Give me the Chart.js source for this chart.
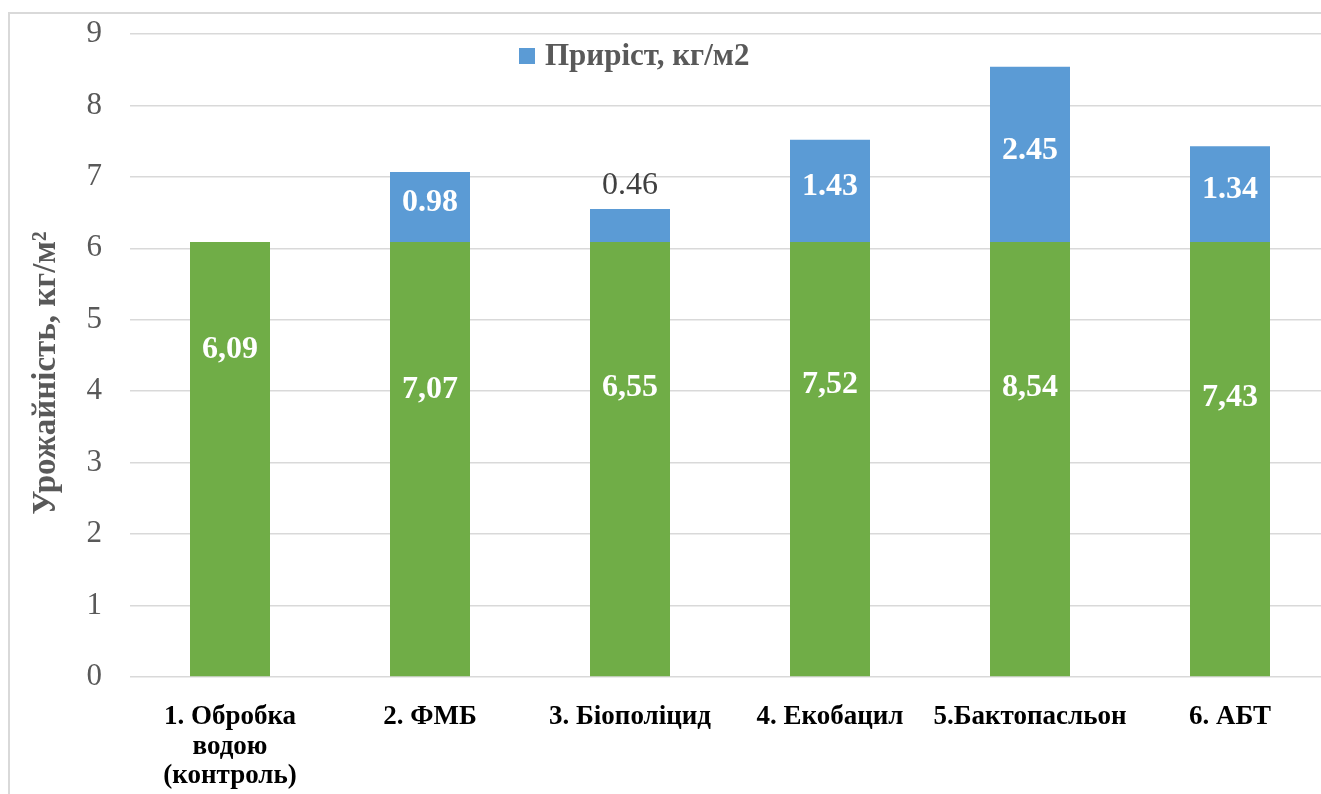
<!DOCTYPE html>
<html>
<head>
<meta charset="utf-8">
<script src="https://cdn.jsdelivr.net/npm/chart.js@4.4.1/dist/chart.umd.min.js"></script>
<style>
  html, body { margin: 0; padding: 0; overflow: hidden; background: #fff; }
  #ramka { position: absolute; left: 8px; top: 12px; border: 2px solid #d9d9d9; }
  canvas { display: block; }
</style>
</head>
<body>
<div id="ramka"><canvas id="grafik" width="1340" height="800"></canvas></div>
<script>
// дані
const kategorii = [
  ["1. Обробка", "водою", "(контроль)"],
  "2. ФМБ",
  "3. Біополіцид",
  "4. Екобацил",
  "5.Бактопасльон",
  "6. АБТ",
];
const kontrol = [6.09, 6.09, 6.09, 6.09, 6.09, 6.09];
const pryrist = [null, 0.98, 0.46, 1.43, 2.45, 1.34];
const urozhai = ["6,09", "7,07", "6,55", "7,52", "8,54", "7,43"];
const tykyY = [0, 1, 2, 3, 4, 5, 6, 7, 8, 9];
const nazvaY = "Урожайність, кг/м²";

const ZELENYI = "#70ad47";
const SYNII = "#5b9bd5";
const SIRYI = "#595959";
const SHRYFT = "'Liberation Serif', 'Times New Roman', serif";

Chart.defaults.font.family = SHRYFT;

// де стоять підписи урожайності (ручне розміщення як в оригіналі)
const rivniPidpysiv = [4.58, 4.02, 4.05, 4.09, 4.05, 3.91];

const pidpysy = {
  id: "pidpysy",
  afterDatasetsDraw(chart) {
    const ctx = chart.ctx;
    const y = chart.scales.y;
    const zeleni = chart.getDatasetMeta(0).data;
    const syni = chart.getDatasetMeta(1).data;
    ctx.save();
    ctx.textAlign = "center";
    ctx.textBaseline = "middle";

    // загальна урожайність на зеленому стовпчику
    ctx.font = `bold 32px ${SHRYFT}`;
    ctx.fillStyle = "#fff";
    zeleni.forEach((bar, i) => {
      ctx.fillText(urozhai[i], bar.x, y.getPixelForValue(rivniPidpysiv[i]));
    });

    // приріст
    syni.forEach((bar, i) => {
      const v = pryrist[i];
      if (v === null) return;
      const { x, y: verkh, base } = bar.getProps(["x", "y", "base"], true);
      const tekst = v.toFixed(2);
      if (base - verkh < 40) {
        // замалий стовпчик — підпис над ним
        ctx.font = `32px ${SHRYFT}`;
        ctx.fillStyle = "#404040";
        ctx.fillText(tekst, x, verkh - 23);
      } else {
        ctx.font = `bold 32px ${SHRYFT}`;
        ctx.fillStyle = "#fff";
        ctx.fillText(tekst, x, (verkh + base) / 2 - 4);
      }
    });
    ctx.restore();
  },
};

// легенда лише для приросту + назва осі Y
const legenda = {
  id: "legenda",
  afterDraw(chart) {
    const ctx = chart.ctx;
    const ds = chart.data.datasets[1];
    ctx.save();
    ctx.fillStyle = ds.backgroundColor;
    ctx.fillRect(509, 34, 16, 16);
    ctx.font = `bold 31px ${SHRYFT}`;
    ctx.fillStyle = SIRYI;
    ctx.textAlign = "left";
    ctx.textBaseline = "middle";
    ctx.fillText(ds.label, 535, 43);

    // назва осі трохи нижче центру, як в оригіналі
    ctx.translate(36, 359);
    ctx.rotate(-Math.PI / 2);
    ctx.textAlign = "center";
    ctx.font = `bold 33px ${SHRYFT}`;
    ctx.fillText(nazvaY, 0, 0);
    ctx.restore();
  },
};

new Chart(document.getElementById("grafik"), {
  type: "bar",
  data: {
    labels: kategorii,
    datasets: [
      {
        label: "Урожайність",
        data: kontrol,
        backgroundColor: ZELENYI,
        borderWidth: 0,
      },
      {
        label: "Приріст, кг/м2",
        data: pryrist,
        backgroundColor: SYNII,
        borderWidth: 0,
      },
    ],
  },
  options: {
    responsive: false,
    animation: false,
    devicePixelRatio: 1,
    layout: { padding: { left: 0, top: 20, right: 20, bottom: 0 } },
    datasets: { bar: { barPercentage: 0.4, categoryPercentage: 1.0 } },
    plugins: {
      legend: { display: false },
      title: { display: false },
      tooltip: { enabled: false },
    },
    scales: {
      x: {
        stacked: true,
        grid: { display: false },
        border: { display: false },
        ticks: {
          color: "#000",
          padding: 17,
          font: { size: 27, weight: "bold", lineHeight: 1.1 },
        },
        afterFit: (s) => { s.height = 137; },
      },
      y: {
        stacked: true,
        min: 0,
        max: 9,
        afterBuildTicks: (s) => { s.ticks = tykyY.map((v) => ({ value: v })); },
        grid: { color: "#d9d9d9", lineWidth: 1.5, drawTicks: false },
        border: { display: false },
        ticks: {
          color: SIRYI,
          padding: 28,
          font: { size: 31 },
        },
        title: { display: false },
        afterFit: (s) => {
          s.width = 120;
          s.paddingTop = 16;
          s.paddingBottom = 16;
        },
      },
    },
  },
  plugins: [pidpysy, legenda],
});
</script>
</body>
</html>
